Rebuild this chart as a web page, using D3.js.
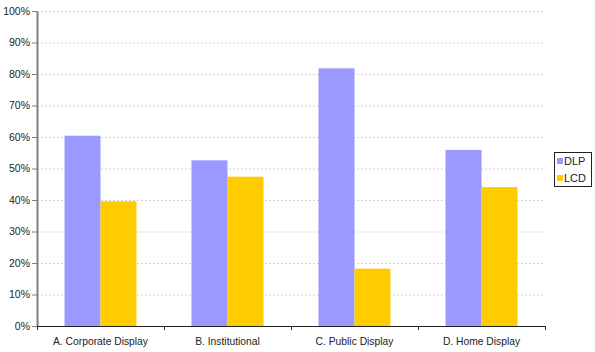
<!DOCTYPE html>
<html><head><meta charset="utf-8">
<script src="https://cdn.jsdelivr.net/npm/d3@7"></script>
<style>body{margin:0;background:#fff}svg{display:block}text{font-family:"Liberation Sans",Arial,sans-serif}</style>
</head><body><svg id="c" width="595" height="352"></svg>
<script>
const categories = ["A. Corporate Display", "B. Institutional", "C. Public Display", "D. Home Display"];
const seriesNames = ["DLP", "LCD"];
const dlp = [60.4, 52.6, 81.8, 55.9];
const lcd = [39.6, 47.4, 18.2, 44.1];
const yTicks = [0, 10, 20, 30, 40, 50, 60, 70, 80, 90, 100];
const colors = ["#9999FF", "#FFCC00"];

const svg = d3.select("#c");
const L = 37, R = 545, T = 11, B = 326;
const x = d3.scaleBand().domain(categories).range([L, R]);
const y = d3.scaleLinear().domain([0, 100]).range([B, T]);
const barW = 36;

// gridlines
svg.append("g").selectAll("line").data(yTicks.filter(d => d > 0)).join("line")
  .attr("x1", L).attr("x2", R).attr("y1", d => y(d) + 0.5).attr("y2", d => y(d) + 0.5)
  .attr("stroke", "#d4d4d4").attr("stroke-dasharray", "2,2");

// bars
const data = [dlp, lcd];
data.forEach((vals, si) => {
  svg.append("g").selectAll("rect").data(categories).join("rect")
    .attr("x", c => x(c) + x.bandwidth() / 2 - barW + si * barW)
    .attr("width", barW)
    .attr("y", (c, i) => y(vals[i]))
    .attr("height", (c, i) => B - y(vals[i]))
    .attr("fill", colors[si]);
});

// y axis
const ya = svg.append("g").attr("transform", `translate(${L},0)`)
  .call(d3.axisLeft(y).tickValues(yTicks).tickFormat(d => d + "%").tickSize(5).tickSizeOuter(0));
ya.select(".domain").attr("stroke", "#808080").attr("stroke-width", 2);
ya.selectAll(".tick line").attr("stroke", "#808080");
ya.selectAll("text").attr("font-size", 10.5).attr("fill", "#222").attr("x", -7);

// x axis
svg.append("line").attr("x1", L).attr("x2", R).attr("y1", B + 0.5).attr("y2", B + 0.5).attr("stroke", "#222");
const bounds = categories.map(c => x(c)).concat([R]);
svg.append("g").selectAll("line").data(bounds).join("line")
  .attr("x1", d => d + 0.5).attr("x2", d => d + 0.5).attr("y1", B).attr("y2", B + 4).attr("stroke", "#222");
svg.append("g").selectAll("text").data(categories).join("text")
  .attr("x", c => x(c) + x.bandwidth() / 2).attr("y", 345)
  .attr("text-anchor", "middle").attr("font-size", 10.3).attr("fill", "#222").text(c => c);

// legend
const lg = svg.append("g");
lg.append("rect").attr("x", 554.5).attr("y", 152.5).attr("width", 37).attr("height", 34)
  .attr("fill", "#fff").attr("stroke", "#222");
seriesNames.forEach((n, i) => {
  lg.append("rect").attr("x", 557).attr("y", 158 + i * 17).attr("width", 6).attr("height", 6).attr("fill", colors[i]);
  lg.append("text").attr("x", 564).attr("y", 165 + i * 17).attr("font-size", 11).attr("fill", "#222").text(n);
});
</script></body></html>
